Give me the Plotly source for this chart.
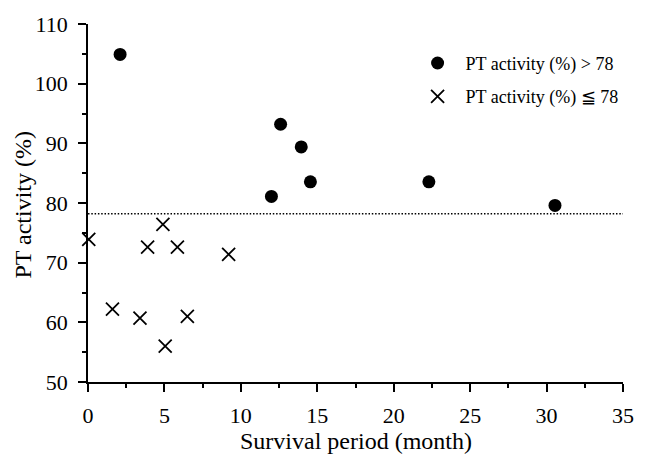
import plotly.graph_objects as go

# Data
high_x = [2.1, 12.0, 12.6, 13.95, 14.55, 22.3, 30.55]
high_y = [104.9, 81.1, 93.2, 89.4, 83.55, 83.55, 79.6]
low_x = [0.05, 1.6, 3.4, 3.9, 4.9, 5.05, 5.85, 6.5, 9.2]
low_y = [73.9, 62.2, 60.7, 72.6, 76.4, 56.0, 72.6, 61.0, 71.4]
threshold = 78.2
x_range = [0, 35]
y_range = [50, 110]
x_ticks = [0, 5, 10, 15, 20, 25, 30, 35]
y_ticks = [50, 60, 70, 80, 90, 100, 110]
high_label = "PT activity (%) > 78"
low_label = "PT activity (%) ≦ 78"
x_title = "Survival period (month)"
y_title = "PT activity (%)"

FONT = "Liberation Serif"
W, H = 646, 456
ML, MR, MT, MB = 88, 14, 21, 74
PW, PH = W - ML - MR, H - MT - MB


def px_to_paper_x(px):
    return (px - ML) / PW


def px_to_paper_y(py):
    return (H - MB - py) / PH


fig = go.Figure()
fig.add_trace(go.Scatter(
    x=high_x, y=high_y, mode="markers", name=high_label,
    legendgroup="a",
    marker=dict(symbol="circle", size=13, color="black"),
    cliponaxis=False,
))
fig.add_trace(go.Scatter(
    x=low_x, y=low_y, mode="markers", name=low_label,
    legendgroup="b",
    marker=dict(symbol="x-thin", size=13, color="black",
                line=dict(width=1.8, color="black")),
    cliponaxis=False,
))

fig.add_shape(type="line", xref="x", yref="y",
              x0=x_range[0], x1=x_range[1] + 0.15, y0=threshold, y1=threshold,
              line=dict(color="black", width=1.5, dash="1.5px,1.8px"))

axis_common = dict(
    showgrid=False, zeroline=False, showline=True, linecolor="black",
    linewidth=1.6, ticks="outside", ticklen=8, tickwidth=1.5,
    tickcolor="black", tickfont=dict(family=FONT, size=22, color="black"),
    fixedrange=True,
)
fig.update_xaxes(range=x_range, tickmode="array", tickvals=x_ticks,
                 minor=dict(ticks="outside", ticklen=4, tickwidth=1.5,
                            tickcolor="black", dtick=2.5, showgrid=False),
                 ticklabelstandoff=5, **axis_common)
fig.update_yaxes(range=y_range, tickmode="array", tickvals=y_ticks,
                 minor=dict(ticks="outside", ticklen=4, tickwidth=1.5,
                            tickcolor="black", dtick=5, showgrid=False),
                 ticklabelstandoff=6, **axis_common)

fig.add_annotation(text=x_title, xref="paper", yref="paper",
                   x=px_to_paper_x(361), y=px_to_paper_y(456),
                   xanchor="center", yanchor="bottom", showarrow=False,
                   borderpad=0,
                   font=dict(family=FONT, size=24, color="black"))
fig.add_annotation(text=y_title, xref="paper", yref="paper",
                   x=px_to_paper_x(22), y=px_to_paper_y(203),
                   xanchor="center", yanchor="middle", showarrow=False,
                   textangle=-90,
                   font=dict(family=FONT, size=24, color="black"))

fig.update_layout(
    width=W, height=H,
    margin=dict(l=ML, r=MR, t=MT, b=MB, pad=0),
    paper_bgcolor="white", plot_bgcolor="white",
    showlegend=True,
    legend=dict(x=px_to_paper_x(415), y=px_to_paper_y(42),
                xanchor="left", yanchor="top",
                font=dict(family=FONT, size=18, color="black"),
                bgcolor="rgba(0,0,0,0)", borderwidth=0,
                itemwidth=46, traceorder="grouped", tracegroupgap=7),
    font=dict(family=FONT, color="black"),
)

fig.write_html("out.html")
